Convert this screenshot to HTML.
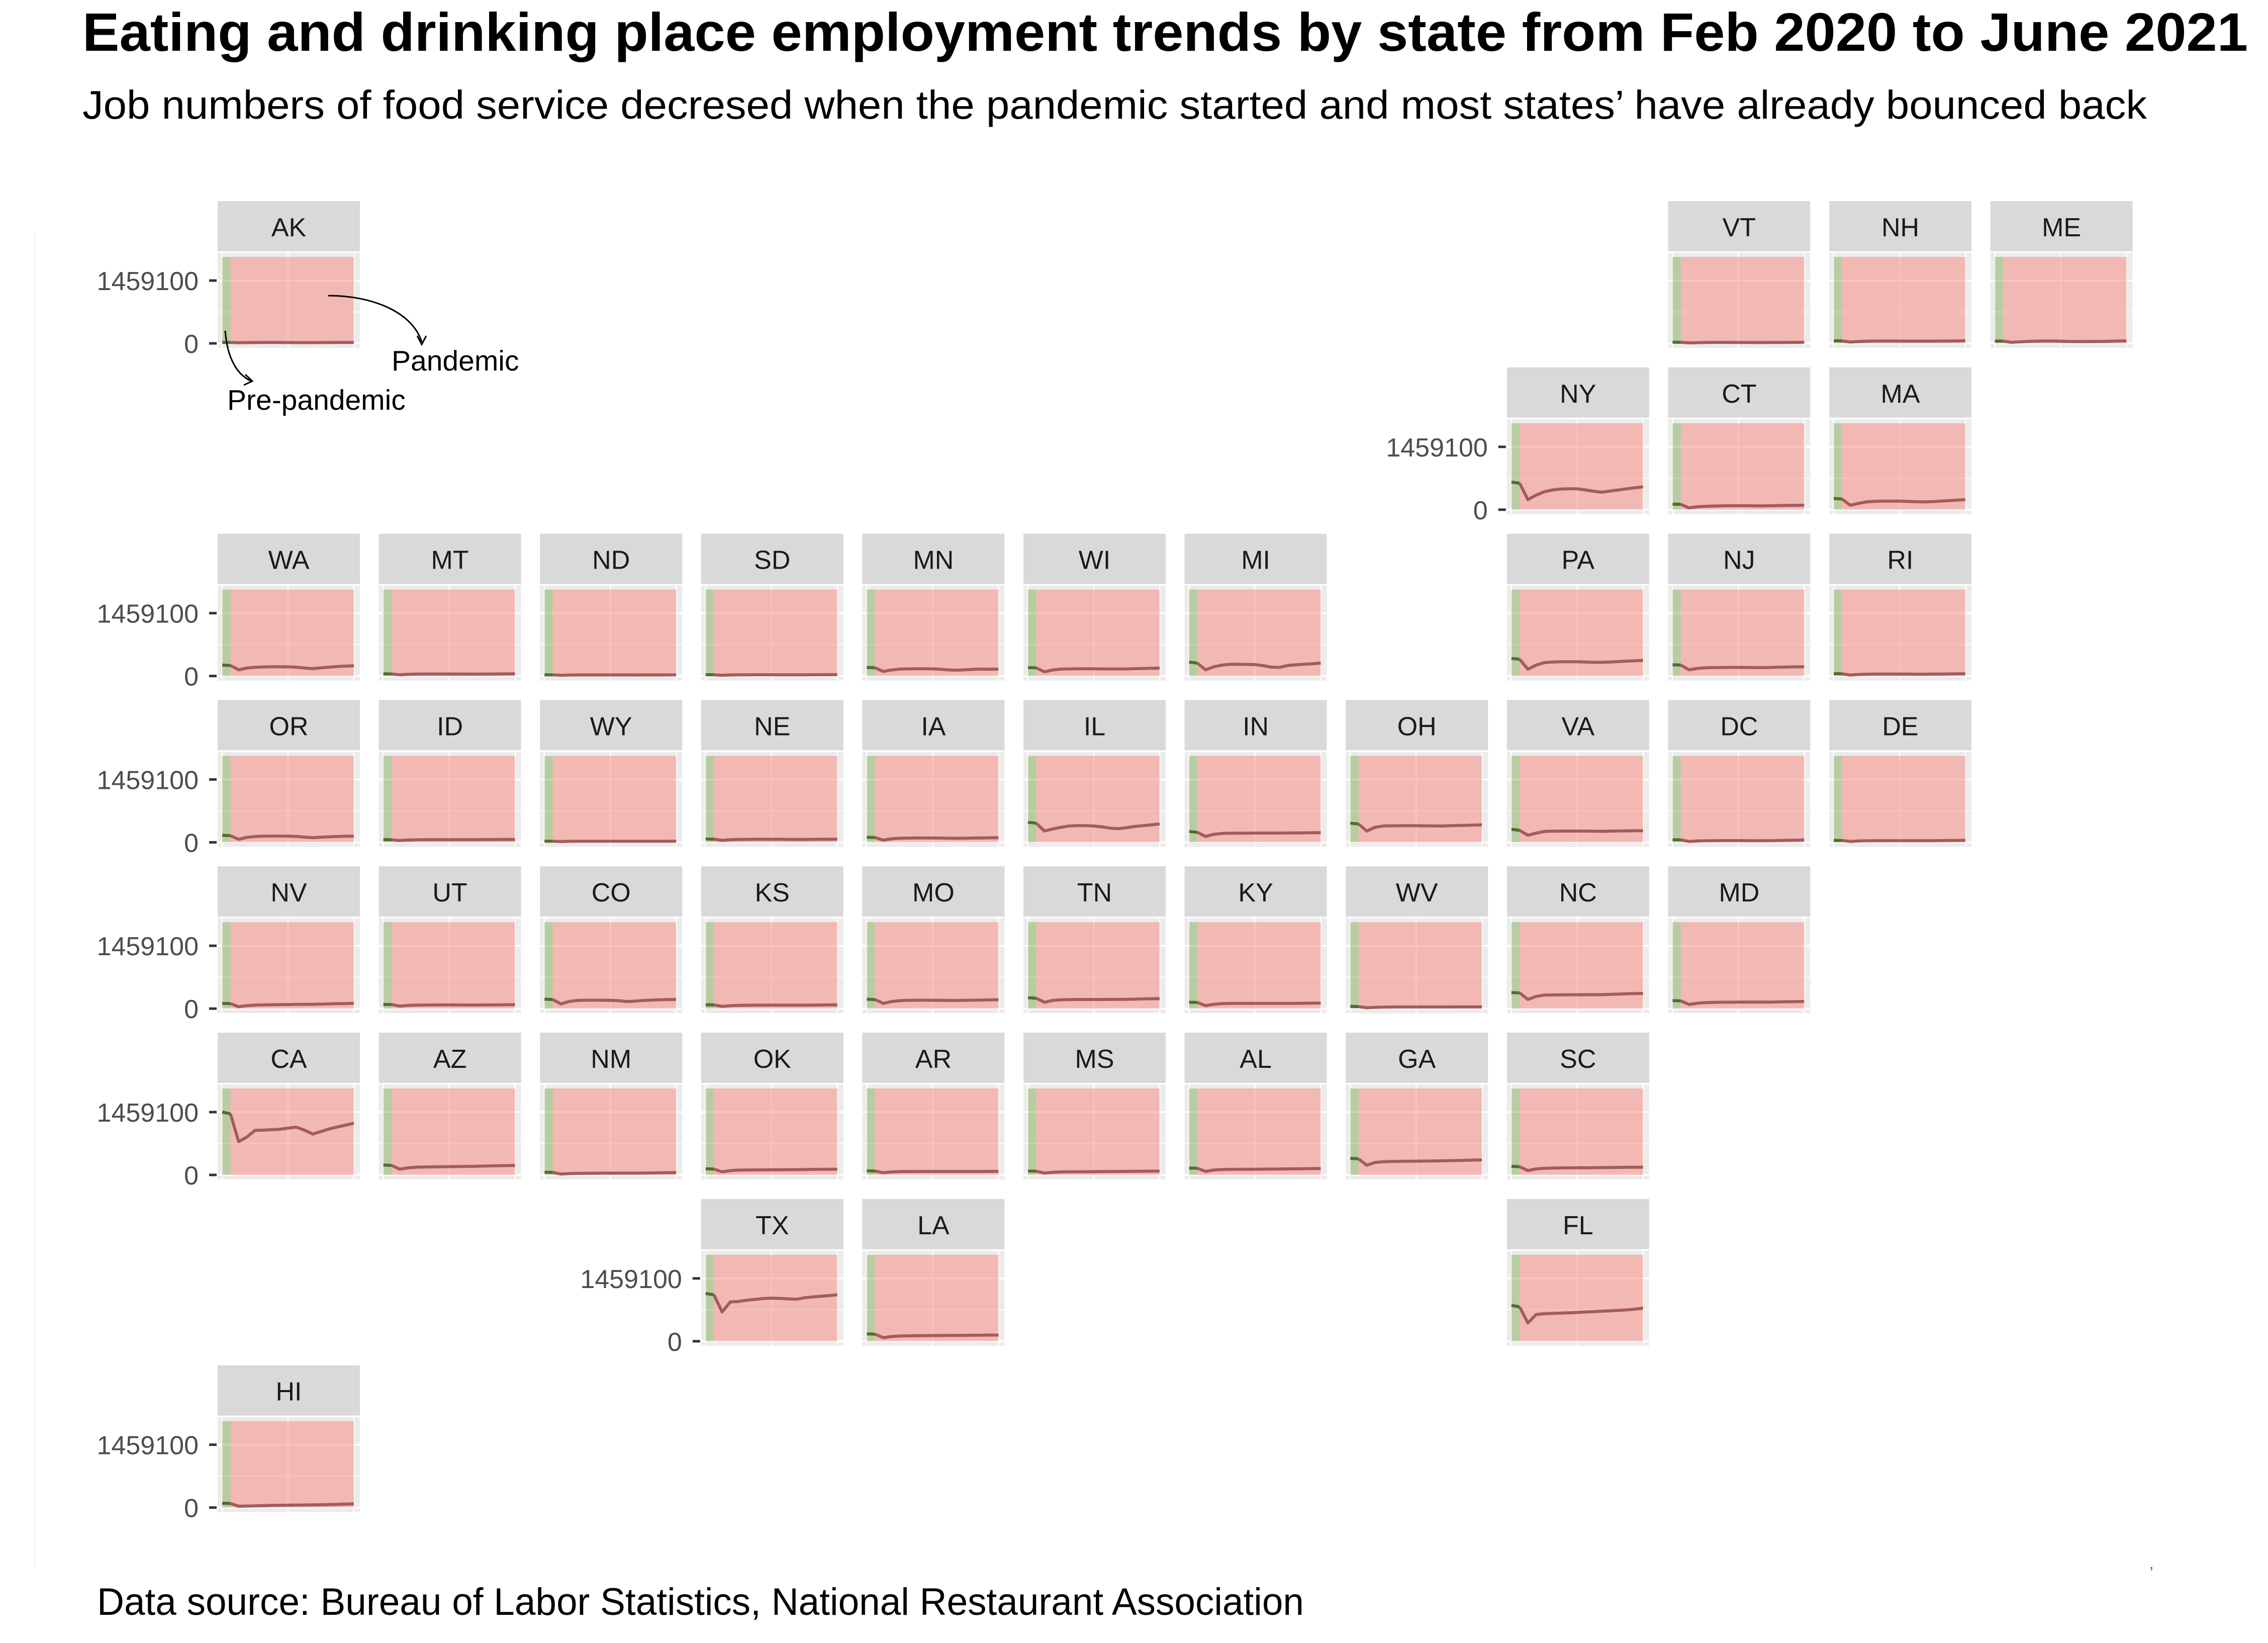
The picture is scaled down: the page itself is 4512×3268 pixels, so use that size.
<!DOCTYPE html>
<html><head><meta charset="utf-8">
<style>
html,body{margin:0;padding:0;background:#fff;}
svg{display:block;font-family:"Liberation Sans",Arial,sans-serif;}
</style></head>
<body>
<svg id="chart" width="4512" height="3268" viewBox="0 0 4512 3268" xmlns="http://www.w3.org/2000/svg">
<rect x="0" y="0" width="4512" height="3268" fill="#ffffff"/>
<text x="164" y="101" font-size="108" font-weight="bold" fill="#000" textLength="4308" lengthAdjust="spacingAndGlyphs">Eating and drinking place employment trends by state from Feb 2020 to June 2021</text>
<text x="164" y="236" font-size="80" fill="#000" textLength="4107" lengthAdjust="spacingAndGlyphs">Job numbers of food service decresed when the pandemic started and most states’ have already bounced back</text>
<line x1="69" y1="460" x2="69" y2="3120" stroke="#f3f3f3" stroke-width="2"/>
<g id="panels"></g>
<g>
<path d="M653,588 C740,588 820,620 839,680" fill="none" stroke="#000" stroke-width="3"/>
<path d="M830,668 L839,685 L848,668" fill="none" stroke="#000" stroke-width="3"/>
<text x="779" y="737" font-size="57" fill="#000">Pandemic</text>
<path d="M448,658 C452,710 470,745 500,758" fill="none" stroke="#000" stroke-width="3"/>
<path d="M488,745 L502,758 L485,766" fill="none" stroke="#000" stroke-width="3"/>
<text x="452" y="815" font-size="57" fill="#000">Pre-pandemic</text>
</g>
<text x="193" y="3212" font-size="76" fill="#000" textLength="2401" lengthAdjust="spacingAndGlyphs">Data source: Bureau of Labor Statistics, National Restaurant Association</text>
<text x="4276" y="3120" font-size="30" fill="#555">,</text>
</svg>
<script>
// Data (thousands of jobs), Feb 2020 .. Jun 2021 (17 months)
const months = ["2020-02","2020-03","2020-04","2020-05","2020-06","2020-07","2020-08","2020-09","2020-10","2020-11","2020-12","2021-01","2021-02","2021-03","2021-04","2021-05","2021-06"];
const yTicks = [0, 1459100];
const yTickLabels = ["0", "1459100"];
const stateCodes = ["AK","VT","NH","ME","NY","CT","MA","WA","MT","ND","SD","MN","WI","MI","PA","NJ","RI","OR","ID","WY","NE","IA","IL","IN","OH","VA","DC","DE","NV","UT","CO","KS","MO","TN","KY","WV","NC","MD","CA","AZ","NM","OK","AR","MS","AL","GA","SC","TX","LA","FL","HI"];
const stateCols = [0,9,10,11,8,9,10,0,1,2,3,4,5,6,8,9,10,0,1,2,3,4,5,6,7,8,9,10,0,1,2,3,4,5,6,7,8,9,0,1,2,3,4,5,6,7,8,3,4,8,0];
const stateRows = [0,0,0,0,1,1,1,2,2,2,2,2,2,2,2,2,2,3,3,3,3,3,3,3,3,3,3,3,4,4,4,4,4,4,4,4,4,4,5,5,5,5,5,5,5,5,5,6,6,6,7];
const axisStates = ["AK","NY","WA","OR","NV","CA","TX","HI"];
const AK = [22,21,14,17,19,20,20,20,19,18,18,18,19,19,20,21,22];
const VT = [26,25,12,16,20,22,22,22,21,20,19,19,20,21,22,23,24];
const NH = [60,58,30,42,50,54,55,55,54,53,52,52,53,54,56,58,60];
const ME = [56,53,25,35,45,52,55,55,50,45,42,42,44,46,50,55,58];
const NY = [641,615,234,339,417,459,480,485,485,459,427,406,433,459,485,510,531];
const CT = [130,125,42,68,78,85,90,92,92,92,90,88,92,96,99,102,104];
const MA = [261,250,104,146,182,195,198,198,198,192,185,182,188,198,210,222,234];
const WA = [253,245,144,185,202,210,214,214,212,205,185,171,190,205,220,230,237];
const MT = [50,47,28,38,44,46,47,47,47,46,44,43,44,46,48,49,50];
const ND = [27,26,17,21,24,25,25,25,25,25,24,23,24,25,25,26,26];
const SD = [30,29,18,24,27,28,29,29,29,28,27,27,28,29,30,30,31];
const MN = [200,192,105,140,160,165,168,168,165,155,140,135,145,155,160,158,160];
const WI = [195,190,97,140,160,165,167,167,167,165,163,163,165,170,175,180,183];
const MI = [323,300,144,214,253,272,272,268,265,240,205,200,245,262,272,284,300];
const PA = [409,390,156,253,311,325,331,331,331,325,318,318,325,335,345,355,362];
const NJ = [261,255,144,175,192,195,198,200,200,198,195,195,200,205,208,212,214];
const RI = [55,52,22,35,42,45,46,46,46,44,42,42,44,46,48,50,52];
const OR = [163,155,70,116,135,143,145,145,143,138,120,108,118,128,135,140,143];
const ID = [62,60,42,52,58,60,62,62,62,62,62,62,63,64,65,66,67];
const WY = [27,26,18,22,24,25,25,25,25,25,24,24,24,25,26,26,27];
const NE = [77,74,46,60,66,68,70,70,70,70,68,66,67,69,71,72,74];
const IA = [116,112,50,80,95,98,100,100,100,98,95,93,96,99,102,104,106];
const IL = [464,445,263,310,348,379,387,387,379,360,329,317,340,368,387,406,426];
const IN = [252,232,135,186,205,210,213,213,215,215,215,215,217,218,220,222,224];
const OH = [445,426,263,348,379,383,385,385,385,383,380,378,385,390,395,400,406];
const VA = [302,279,163,213,252,259,260,262,262,260,258,255,260,263,266,268,271];
const DC = [60,57,20,30,35,38,40,40,40,38,36,36,38,42,46,50,55];
const DE = [45,43,20,30,35,37,38,38,38,38,37,37,38,40,42,44,46];
const NV = [121,117,43,70,82,88,90,92,95,98,98,100,105,110,114,118,121];
const UT = [97,94,58,75,82,84,85,86,86,85,84,84,85,86,88,90,92];
const CO = [218,212,109,167,190,195,195,195,193,185,165,175,190,198,205,210,214];
const KS = [90,87,51,68,76,78,79,80,80,80,79,79,80,82,84,86,88];
const MO = [218,210,121,165,185,192,195,195,195,193,190,190,193,196,200,203,206];
const TN = [253,240,148,190,205,210,212,212,213,213,214,214,216,220,225,229,233];
const KY = [148,143,70,100,115,120,121,121,121,121,121,120,121,123,125,127,128];
const WV = [51,48,20,30,35,37,38,38,38,38,38,38,39,40,40,41,41];
const NC = [374,365,214,284,315,318,320,322,322,323,323,325,330,338,345,350,354];
const MD = [187,180,97,125,140,146,148,148,150,150,150,150,152,156,160,163,167];
const CA = [1459,1420,773,880,1035,1040,1050,1060,1086,1110,1040,949,1008,1067,1114,1157,1204];
const AZ = [231,222,133,165,180,185,188,190,193,196,198,200,205,210,214,217,220];
const NM = [63,60,20,30,35,38,40,42,42,42,42,42,44,47,50,52,55];
const OK = [141,136,71,100,112,115,117,118,119,120,122,123,125,128,130,132,133];
const AR = [94,90,51,70,77,78,79,80,80,80,80,80,80,81,81,82,82];
const MS = [90,87,43,62,70,72,74,75,76,78,79,80,82,84,86,88,90];
const AL = [161,155,82,115,125,129,130,131,132,134,136,138,140,143,145,147,149];
const GA = [384,375,227,290,306,312,315,318,320,322,325,328,332,336,340,345,349];
const SC = [200,192,102,140,155,161,163,165,166,167,168,170,172,175,177,179,180];
const TX = [1108,1080,679,913,925,952,971,991,1002,995,985,975,1010,1030,1045,1060,1080];
const LA = [172,165,82,110,121,125,128,130,132,133,134,135,137,139,141,143,144];
const FL = [835,796,425,620,640,645,652,659,668,679,688,698,705,715,728,745,768];
const HI = [100,96,30,35,40,45,50,52,55,58,60,62,65,70,75,80,85];
const seriesByState = {AK,VT,NH,ME,NY,CT,MA,WA,MT,ND,SD,MN,WI,MI,PA,NJ,RI,OR,ID,WY,NE,IA,IL,IN,OH,VA,DC,DE,NV,UT,CO,KS,MO,TN,KY,WV,NC,MD,CA,AZ,NM,OK,AR,MS,AL,GA,SC,TX,LA,FL,HI};

const NS = "http://www.w3.org/2000/svg";
const YMAX = 2007000; // top of shaded region
function colX(c){ return 433 + 320.6*c; }
function rowY(r){ return 400 + 330.8*r; }
// y scale: value (jobs) -> offset within panel row
function yScale(v){ return 283 - v/1459100*125; }
// x scale: month index -> offset within panel
function xScale(i){ return 9 + i*(262/(months.length-1)); }

function mk(tag, attrs, parent){
  const e = document.createElementNS(NS, tag);
  for (const k in attrs) e.setAttribute(k, attrs[k]);
  parent.appendChild(e);
  return e;
}
const root = document.getElementById("panels");

stateCodes.forEach((st, idx) => {
  const X = colX(stateCols[idx]), Y = rowY(stateRows[idx]);
  const g = mk("g", {transform:`translate(${X.toFixed(1)},${Y.toFixed(1)})`}, root);
  
  
  const strip = mk("rect", {x:0, y:0, width:283, height:100, fill:"#D9D9D9"}, g);
  
  
  const lab = mk("text", {x:141.5, y:70, "font-size":52, "text-anchor":"middle", fill:"#1A1A1A"}, g);
  lab.textContent = st;
  
  
  const bg = mk("rect", {x:0, y:103, width:283, height:189, fill:"#EBEBEB"}, g);
  
  
  // gridlines
  const gy = [yScale(0), yScale(1459100)];
  gy.forEach(y => {
    const l = mk("line", {x1:0, x2:283, y1:y, y2:y, stroke:"#fff", "stroke-width":3.5}, g);
    
    
  });
  const my = yScale(729550);
  const ml = mk("line", {x1:0, x2:283, y1:my, y2:my, stroke:"#fff", "stroke-width":1.8}, g);
  
  
  [xScale(0), 140, xScale(months.length-1)].forEach(x => {
    const l = mk("line", {x1:x, x2:x, y1:103, y2:292, stroke:"#fff", "stroke-width":2.5}, g);
    
    
  });
  // shaded periods
  const top = yScale(YMAX), bot = yScale(0);
  const gr = mk("rect", {x:xScale(0), y:top, width:xScale(1)-xScale(0), height:bot-top, fill:"rgb(100,155,40)", "fill-opacity":0.378}, g);
  
  
  const pk = mk("rect", {x:xScale(1), y:top, width:xScale(months.length-1)-xScale(1), height:bot-top, fill:"#F8766D", "fill-opacity":0.44}, g);
  
  
  // lines
  const vals = seriesByState[st];
  const pts = vals.map((v,i) => `${xScale(i).toFixed(1)},${yScale(v*1000).toFixed(1)}`);
  const pan = mk("polyline", {points:pts.slice(1).join(" "), fill:"none", stroke:"#A35B5B", "stroke-width":6, "stroke-linejoin":"round"}, g);
  
  
  const pre = mk("polyline", {points:pts.slice(0,2).join(" "), fill:"none", stroke:"#566B2C", "stroke-width":6}, g);
  
  
  // y axis
  if (axisStates.includes(st)) {
    yTicks.forEach((t, k) => {
      const y = yScale(t);
      const tk = mk("line", {x1:-17, x2:-2, y1:y, y2:y, stroke:"#333", "stroke-width":5}, g);
      
      
      const tl = mk("text", {x:-38, y:y+19, "font-size":52, "text-anchor":"end", fill:"#4D4D4D"}, g);
      tl.textContent = yTickLabels[k];
      
      
    });
  }
});
</script>
</body></html>
